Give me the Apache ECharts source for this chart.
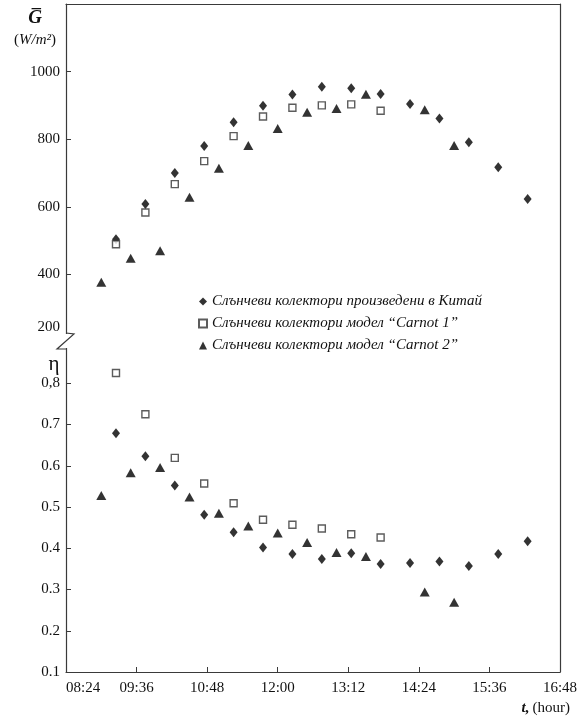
<!DOCTYPE html>
<html>
<head>
<meta charset="utf-8">
<script src="https://cdn.jsdelivr.net/npm/echarts@6/dist/echarts.min.js"></script>
<style>
  html, body { margin: 0; padding: 0; background: #fff; }
  #chart { width: 578px; height: 720px; }
</style>
</head>
<body>
<div id="chart"></div>
<script>
// time in minutes from midnight
var timesChina   = [555, 585, 615, 645, 675, 705, 735, 765, 795, 825, 855, 885, 915, 945, 975];
var timesCarnot1 = [555, 585, 615, 645, 675, 705, 735, 765, 795, 825];
var timesCarnot2 = [540, 570, 600, 630, 660, 690, 720, 750, 780, 810, 870, 900];

// solar irradiance G, W/m2
var gChina   = [504, 608, 700, 780, 850, 899, 932, 955, 951, 934, 904, 861, 791, 717, 623];
var gCarnot1 = [489, 583, 667, 735, 809, 867, 893, 900, 903, 884];
var gCarnot2 = [377, 448, 470, 628, 714, 781, 832, 880, 891, 933, 887, 781];

// efficiency
var etaChina   = [0.679, 0.623, 0.552, 0.481, 0.439, 0.402, 0.386, 0.374, 0.388, 0.362, 0.364, 0.368, 0.357, 0.386, 0.417];
var etaCarnot1 = [0.825, 0.725, 0.619, 0.557, 0.509, 0.469, 0.457, 0.448, 0.434, 0.426];
var etaCarnot2 = [0.528, 0.583, 0.596, 0.524, 0.485, 0.454, 0.437, 0.414, 0.390, 0.380, 0.294, 0.269];

var names = [
  'Слънчеви колектори произведени в Китай',
  'Слънчеви колектори модел “Carnot 1”',
  'Слънчеви колектори модел “Carnot 2”'
];

var font = 'Liberation Serif, DejaVu Serif, serif';
var axisCol = '#3a3a3a';

function pairs(xs, ys) {
  return xs.map(function (x, i) { return [x, ys[i]]; });
}
function hhmm(v) {
  var h = Math.floor(v / 60), m = v % 60;
  return (h < 10 ? '0' : '') + h + ':' + (m < 10 ? '0' : '') + m;
}

var styles = [
  { symbol: 'diamond', symbolSize: [8, 10], itemStyle: { color: '#000' } },
  { symbol: 'rect', symbolSize: 7, itemStyle: { color: '#fff', borderColor: '#333', borderWidth: 1.4 } },
  { symbol: 'triangle', symbolSize: [10, 9], itemStyle: { color: '#000' } }
];

function sc(idx, grid, data) {
  return Object.assign({
    name: names[idx],
    type: 'scatter',
    xAxisIndex: grid,
    yAxisIndex: grid * 2,
    data: data,
    z: 3
  }, styles[idx]);
}

// right-hand frame line of each panel
function frameAxis(grid) {
  return {
    gridIndex: grid, type: 'value', position: 'right',
    axisLine: { show: true, onZero: false, lineStyle: { color: axisCol, width: 1.2 } },
    axisTick: { show: false }, axisLabel: { show: false }, splitLine: { show: false }
  };
}

var chart = echarts.init(document.getElementById('chart'));
chart.setOption({
  animation: false,
  textStyle: { fontFamily: font },
  grid: [
    { left: 66, right: 18, top: 4, height: 338, outerBoundsMode: 'none' },
    { left: 66, right: 18, top: 342, bottom: 48, outerBoundsMode: 'none' }
  ],
  legend: {
    data: names,
    orient: 'vertical',
    left: 193,
    top: 289,
    itemWidth: 8,
    itemHeight: 8,
    itemGap: 7,
    textStyle: { fontFamily: font, fontStyle: 'italic', fontSize: 15, color: '#111' }
  },
  xAxis: [
    {
      gridIndex: 0, type: 'value', position: 'top', min: 504, max: 1008,
      axisLine: { onZero: false, lineStyle: { color: axisCol, width: 1.2 } },
      axisTick: { show: false }, axisLabel: { show: false }, splitLine: { show: false }
    },
    {
      gridIndex: 1, type: 'value', position: 'bottom', min: 504, max: 1008, interval: 72,
      axisLine: { onZero: false, lineStyle: { color: axisCol, width: 1.2 } },
      axisTick: { inside: true, length: 5, lineStyle: { color: axisCol } },
      axisLabel: { formatter: hhmm, fontSize: 15, color: '#111', margin: 9, alignMinLabel: 'left' },
      splitLine: { show: false },
      name: '{t|t,} {h|(hour)}',
      nameLocation: 'end',
      nameGap: 10,
      nameTextStyle: {
        align: 'right', verticalAlign: 'top', padding: [29, 0, 0, 0],
        rich: {
          t: { fontFamily: font, fontSize: 15, fontWeight: 'bold', fontStyle: 'italic', color: '#111' },
          h: { fontFamily: font, fontSize: 15, color: '#111' }
        }
      }
    }
  ],
  yAxis: [
    {
      gridIndex: 0, type: 'value', position: 'left', min: 200, max: 1200, interval: 200,
      axisLine: { show: true, onZero: false, lineStyle: { color: axisCol, width: 1.2 } },
      axisTick: { show: true, inside: true, length: 5, lineStyle: { color: axisCol } },
      axisLabel: {
        fontSize: 15, color: '#111', margin: 6, showMaxLabel: false,
        formatter: function (v) { return v === 200 ? '{up|200}' : String(v); },
        rich: { up: { fontFamily: font, fontSize: 15, color: '#111', padding: [0, 0, 30, 0] } }
      },
      splitLine: { show: false },
      name: '{g|G̅}\n{p|(}{u|W/m²}{p|)}',
      nameLocation: 'end',
      nameGap: 0,
      nameTextStyle: {
        align: 'center', verticalAlign: 'top', padding: [3, 62, 0, 0],
        rich: {
          g: { fontFamily: font, fontSize: 19, fontWeight: 'bold', fontStyle: 'italic', color: '#111', lineHeight: 23 },
          p: { fontFamily: font, fontSize: 15, color: '#111', lineHeight: 20 },
          u: { fontFamily: font, fontSize: 15, fontStyle: 'italic', color: '#111', lineHeight: 20 }
        }
      }
    },
    frameAxis(0),
    {
      gridIndex: 1, type: 'value', position: 'left', min: 0.1, max: 0.9, interval: 0.1,
      axisLine: { show: true, onZero: false, lineStyle: { color: axisCol, width: 1.2 } },
      axisTick: { show: true, inside: true, length: 5, lineStyle: { color: axisCol } },
      axisLabel: {
        fontSize: 15, color: '#111', margin: 6, showMaxLabel: false,
        formatter: function (v) { return Math.abs(v - 0.8) < 1e-6 ? '0,8' : v.toFixed(1); }
      },
      splitLine: { show: false },
      name: 'η',
      nameLocation: 'end',
      nameGap: 0,
      nameTextStyle: { fontFamily: font, fontSize: 21, color: '#111', align: 'center', verticalAlign: 'top', padding: [12, 24, 0, 0] }
    },
    frameAxis(1)
  ],
  graphic: [
    // axis break on the left axis
    { type: 'rect', z: 100, shape: { x: 57, y: 334, width: 20, height: 14 }, style: { fill: '#fff' } },
    {
      type: 'polyline', z: 101,
      shape: { points: [[66, 333], [74, 334], [57, 349], [66, 349]] },
      style: { stroke: axisCol, lineWidth: 1.2, fill: null }
    }
  ],
  series: [
    sc(0, 0, pairs(timesChina, gChina)),
    sc(1, 0, pairs(timesCarnot1, gCarnot1)),
    sc(2, 0, pairs(timesCarnot2, gCarnot2)),
    sc(0, 1, pairs(timesChina, etaChina)),
    sc(1, 1, pairs(timesCarnot1, etaCarnot1)),
    sc(2, 1, pairs(timesCarnot2, etaCarnot2))
  ]
});
</script>
</body>
</html>
